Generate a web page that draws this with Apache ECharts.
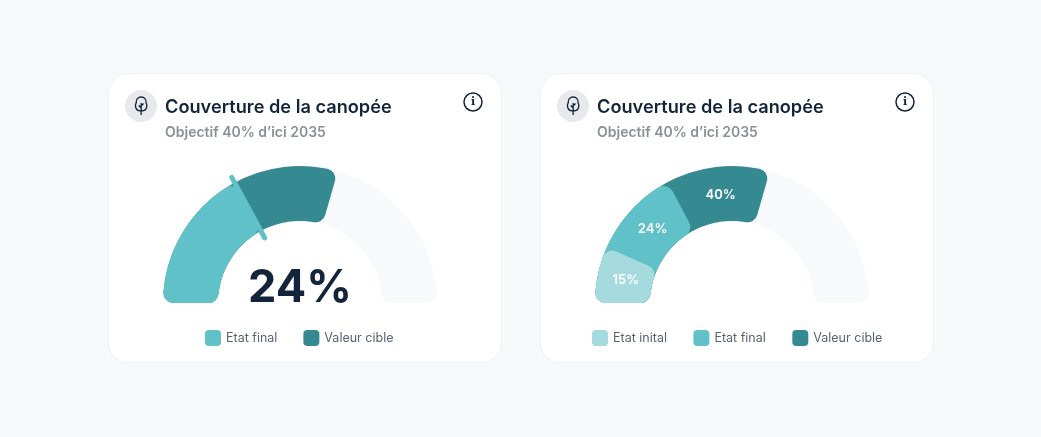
<!DOCTYPE html>
<html><head><meta charset="utf-8">
<style>html,body{margin:0;padding:0;background:#f7f8fa}#c{width:1041px;height:437px}</style>
<script src="https://cdn.jsdelivr.net/npm/echarts@6/dist/echarts.min.js"></script>
</head><body><div id="c"></div>
<script>
const titleText = 'Couverture de la canopée';
const subtitleText = 'Objectif 40% d’ici 2035';
const bigValue = '24%';
// Sweep of each gauge boundary, in degrees of the half-circle
const leftNames = ['Etat final', 'Valeur cible'];
const leftEnds = [62, 106];
const rightNames = ['Etat inital', 'Etat final', 'Valeur cible'];
const rightEnds = [24, 62, 106];
const rightLabels = ['15%', '24%', '40%'];
const fullSweep = 180;
const colorsByName = {'Etat inital':'#a5dadf','Etat final':'#60c1c8','Valeur cible':'#358a91'};
const track = '#f7f9fa';
const cx = [300, 732], cy = 303, R = [82, 137];
const font = 'Inter, "Noto Sans", sans-serif';
const treePath = 'M7 19V7 M7 12L4.500 9.500 M7 10L9.500 7.500 M7 15C3 15 1 12.500 1 9.500C1 8.500 1.300 7.500 1.800 6.800C1.500 3.500 3.500 1 7 1C10.500 1 12.500 3.500 12.200 6.800C12.700 7.500 13 8.500 13 9.500C13 12.500 11 15 7 15Z';
echarts.graphic.registerShape('tree', echarts.graphic.extendPath(treePath, {}));

function arc(name, center, end, color, z) {
  return {type:'pie', name, center:[center,cy], radius:[R[0],R[1]], startAngle:180, endAngle:0, z, silent:true,
    clockwise:true, avoidLabelOverlap:false, label:{show:false}, labelLine:{show:false}, emphasis:{disabled:true},
    itemStyle:{color},
    data:[{value:end, name:'', itemStyle:{color, borderRadius:10}},{value:fullSweep-end, name:'', itemStyle:{color:'transparent'}}]};
}
function card(x){ return {type:'rect', shape:{x:x-.5,y:73.5,width:393,height:289,r:20}, style:{fill:'#fff',stroke:'#f0f1f4',lineWidth:1}, z:0}; }
function head(x){ return [
  {type:'circle', shape:{cx:x+32,cy:106,r:16}, style:{fill:'#e7e9ec'}, z:1},
  {type:'tree', x:x+25.500, y:96, scaleX:.95, scaleY:1, style:{fill:'none',stroke:'#14243a',lineWidth:1.400}, z:2},
  {type:'circle', shape:{cx:x+364,cy:102,r:9}, style:{fill:'none',stroke:'#14243a',lineWidth:1.500}, z:2},
  {type:'text', x:x+364, y:102, style:{text:'i', fill:'#14243a', font:'600 11px "DejaVu Serif", serif', align:'center', verticalAlign:'middle'}, z:2}
];}
const titles = [], legends = [];
[109,541].forEach(x=>{
  titles.push({text:titleText, left:x+56, top:99, textStyle:{fontFamily:font,fontSize:18.200,fontWeight:600,color:'#14243a'}, padding:0});
  titles.push({text:subtitleText, left:x+56, top:126, textStyle:{fontFamily:font,fontSize:14,fontWeight:600,color:'#8b9098'}, padding:0});
});
titles.push({text:bigValue, left:cx[0], textAlign:'center', top:266, textStyle:{fontFamily:font,fontSize:45,fontWeight:700,color:'#14243a'}, padding:0});
const legendBase = {orient:'horizontal', top:330, padding:0, itemWidth:16, itemHeight:16, icon:'roundRect', selectedMode:false, textStyle:{fontFamily:font,fontSize:12.500,color:'#5b6370'}};
legends.push({...legendBase, data:leftNames, left:205, itemGap:26});
legends.push({...legendBase, data:rightNames, left:592, itemGap:26.500});

const series = [];
[0,1].forEach(i=>series.push(arc('', cx[i], fullSweep-0.01, track, 1)));
for (let k=leftNames.length-1;k>=0;k--) series.push(arc(leftNames[k], cx[0], leftEnds[k], colorsByName[leftNames[k]], 2+leftNames.length-k));
for (let k=rightNames.length-1;k>=0;k--) series.push(arc(rightNames[k], cx[1], rightEnds[k], colorsByName[rightNames[k]], 2+rightNames.length-k));
// transparent segments that carry the value labels
series.push({type:'pie', name:'', center:[cx[1],cy], radius:[76,135], startAngle:180, endAngle:0, z:9, silent:true,
  emphasis:{disabled:true}, itemStyle:{color:'transparent'}, labelLine:{show:false},
  label:{show:true, position:'inside', color:'#fff', fontFamily:font, fontSize:13, fontWeight:600, formatter:p=>rightLabels[p.dataIndex]||''},
  data:rightEnds.map((e,i)=>({value:e-(i?rightEnds[i-1]:0), name:''})).concat([{value:fullSweep-rightEnds[rightEnds.length-1], name:''}])});
// boundary tick on the left gauge
series.push({type:'line', coordinateSystem:'polar', name:'', data:[[74,leftEnds[0]-.5],[143,leftEnds[0]-.5]], symbol:'none', silent:true, clip:false, z:10,
  lineStyle:{color:'#60c1c8',width:5,cap:'round'}});

const chart = echarts.init(document.getElementById('c'));
chart.setOption({
  animation:false, backgroundColor:'#f7f8fa',
  title:titles, legend:legends,
  polar:{center:[cx[0],cy], radius:150},
  radiusAxis:{type:'value',min:0,max:150,show:false},
  angleAxis:{type:'value',min:0,max:360,startAngle:180,clockwise:true,show:false},
  graphic:[card(109),card(541),...head(109),...head(541)],
  series
});
</script></body></html>
